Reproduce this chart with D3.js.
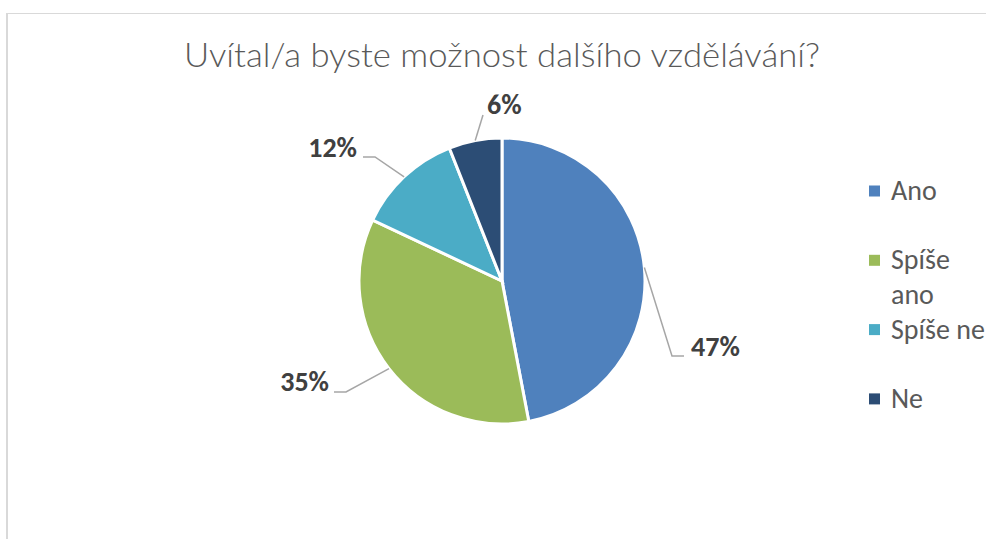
<!DOCTYPE html>
<html lang="cs">
<head>
<meta charset="UTF-8">
<title>Uvítal/a byste možnost dalšího vzdělávání?</title>
<script src="https://cdn.jsdelivr.net/npm/d3@7"></script>
<style>
    body { margin: 0; background: #fff; }
    svg { display: block; }
    .title { font-family: Lato, Carlito, "Open Sans", sans-serif; font-weight: 300; fill: #595959; }
    .lbl { font-family: Carlito, "Open Sans", sans-serif; font-weight: 700; fill: #404040; }
    .leg { font-family: Carlito, "Open Sans", sans-serif; fill: #595959; }
</style>
</head>
<body>
<div id="chart"></div>
<script>
    // data
    const categories = ["Ano", "Spíše ano", "Spíše ne", "Ne"];
    const shares = [47, 35, 12, 6];
    const colours = ["#4f81bd", "#9bbb59", "#4bacc6", "#2c4d75"];

    const width = 986, height = 539;
    const cx = 502, cy = 281, radius = 143;

    // where excel put each data label, relative to the pie centre
    // elbow = end of the slanted leader, end = end of the short horizontal bit
    const labelPlace = [
        {elbow: [170, 75], end: [182, 75], text: [189, 75], anchor: "start"},
        {elbow: [-156, 111], end: [-168, 111], text: [-173, 110], anchor: "end"},
        {elbow: [-127, -124], end: [-139, -124], text: [-145, -124], anchor: "end"},
        {elbow: [-19, -166], end: [-19, -166], text: [-15, -167], anchor: "start"}
    ];

    let svg = d3.select("#chart").append("svg")
        .attr("width", width)
        .attr("height", height)

    // chart area border (only top + left visible in the crop)
    svg.append("line")
        .attr("x1", 6).attr("x2", width).attr("y1", 13.5).attr("y2", 13.5)
        .attr("stroke", "#d9d9d9").attr("stroke-width", 1)
    svg.append("line")
        .attr("x1", 7).attr("x2", 7).attr("y1", 13).attr("y2", height)
        .attr("stroke", "#d9d9d9").attr("stroke-width", 2)

    svg.append("text")
        .attr("class", "title")
        .attr("x", cx)
        .attr("y", 67)
        .attr("text-anchor", "middle")
        .attr("font-size", 33)
        .attr("textLength", 636)
        .attr("lengthAdjust", "spacingAndGlyphs")
        .text("Uvítal/a byste možnost dalšího vzdělávání?")

    let data = categories.map((c, i) => ({name: c, value: shares[i], colour: colours[i]}))

    let pie = d3.pie().value(d => d.value).sort(null)
    let arc = d3.arc().innerRadius(0).outerRadius(radius)
    let arcs = pie(data)

    let g = svg.append("g").attr("transform", `translate(${cx},${cy})`)

    g.selectAll("path.slice")
        .data(arcs)
        .join("path")
        .attr("class", "slice")
        .attr("d", arc)
        .attr("fill", d => d.data.colour)
        .attr("stroke", "#fff")
        .attr("stroke-width", 3)

    // leader lines + labels
    arcs.forEach((a, i) => {
        let mid = (a.startAngle + a.endAngle) / 2
        let p0 = [radius * Math.sin(mid), -radius * Math.cos(mid)]
        let pl = labelPlace[i]
        g.append("polyline")
            .attr("points", [p0, pl.elbow, pl.end].map(p => p.join(",")).join(" "))
            .attr("fill", "none")
            .attr("stroke", "#a6a6a6")
            .attr("stroke-width", 1.5)

        g.append("text")
            .attr("class", "lbl")
            .attr("x", pl.text[0])
            .attr("y", pl.text[1])
            .attr("text-anchor", pl.anchor)
            .attr("font-size", 28)
            .text(a.data.value + "%")
    })

    // legend, with word wrap like excel does it
    const legX = 869, legY = 191, legStep = 69.3, box = 11, legFont = 28, maxW = 100;
    let legend = svg.append("g")
    data.forEach((d, i) => {
        let yc = legY + i * legStep
        legend.append("rect")
            .attr("x", legX)
            .attr("y", yc - box / 2)
            .attr("width", box)
            .attr("height", box)
            .attr("fill", d.colour)

        let t = legend.append("text")
            .attr("class", "leg")
            .attr("font-size", legFont)
            .attr("x", legX + 22)
            .attr("y", yc + 9)

        let words = d.name.split(" ")
        let line = []
        let tspan = t.append("tspan").attr("x", legX + 22)
        words.forEach(w => {
            line.push(w)
            tspan.text(line.join(" "))
            if (tspan.node().getComputedTextLength() > maxW && line.length > 1) {
                line.pop()
                tspan.text(line.join(" "))
                line = [w]
                tspan = t.append("tspan").attr("x", legX + 22).attr("dy", 35).text(w)
            }
        })
    })
</script>
</body>
</html>
